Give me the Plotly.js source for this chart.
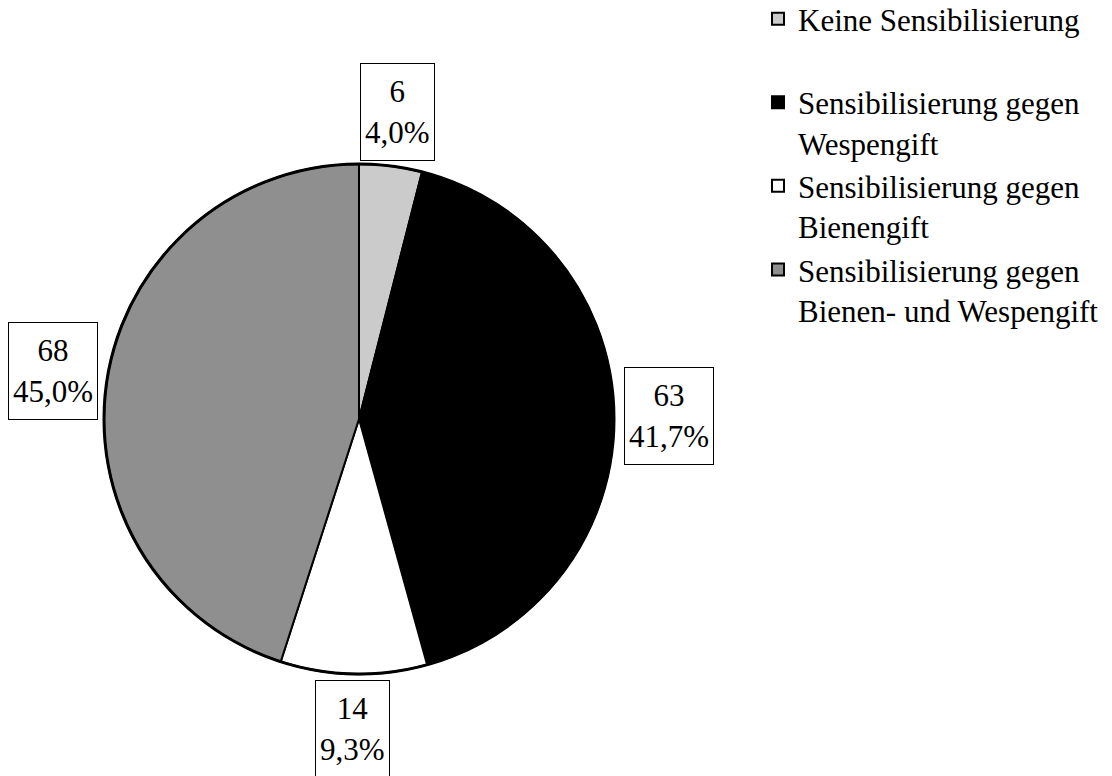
<!DOCTYPE html>
<html>
<head>
<meta charset="utf-8">
<script src="https://cdn.plot.ly/plotly-3.0.1.min.js"></script>
<style>
  html, body { margin: 0; padding: 0; background: #ffffff; }
  #chart { width: 1112px; height: 776px; }
</style>
</head>
<body>
<div id="chart"></div>
<script>
// Sensibilisierung gegen Insektengift: Anzahl der Patienten je Gruppe
const categories = [
  'Keine Sensibilisierung<br>&nbsp;',
  'Sensibilisierung gegen<br>Wespengift',
  'Sensibilisierung gegen<br>Bienengift',
  'Sensibilisierung gegen<br>Bienen- und Wespengift'
];
const counts = [6, 63, 14, 68];

const sliceColors = ['#cbcbcb', '#000000', '#ffffff', '#8f8f8f'];

const W = 1112, H = 776;
const FONT = 'Liberation Serif';
const FONT_SIZE = 31;

// pie placement in pixels
const cx = 359, cy = 419, r = 255;
const labelRadius = 1.215 * r;

const total = counts.reduce((a, b) => a + b, 0);
const fmtPct = v => (v / total * 100).toFixed(1).replace('.', ',') + '%';

// boxed value labels placed along each slice's middle angle (clockwise from 12 o'clock)
const annotations = [];
let start = 0;
counts.forEach(v => {
  const frac = v / total;
  const mid = (start + frac / 2) * 2 * Math.PI;
  start += frac;
  const px = cx + labelRadius * Math.sin(mid);
  const py = cy - labelRadius * Math.cos(mid);
  annotations.push({
    xref: 'paper', yref: 'paper',
    x: px / W, y: 1 - py / H,
    xanchor: 'center', yanchor: 'middle',
    showarrow: false,
    text: v + '<br>' + fmtPct(v),
    font: { family: FONT, size: FONT_SIZE, color: '#000000' },
    bordercolor: '#000000', borderwidth: 1, borderpad: 4,
    height: 88,
    bgcolor: '#ffffff'
  });
});

const trace = {
  type: 'pie',
  labels: categories,
  values: counts,
  sort: false,
  direction: 'clockwise',
  rotation: 0,
  textinfo: 'none',
  hoverinfo: 'label+value+percent',
  marker: { colors: sliceColors, line: { color: '#000000', width: 2 } },
  domain: {
    x: [(cx - r) / W, (cx + r) / W],
    y: [1 - (cy + r) / H, 1 - (cy - r) / H]
  }
};

const layout = {
  width: W, height: H,
  margin: { l: 0, r: 0, t: 0, b: 0, autoexpand: false },
  paper_bgcolor: '#ffffff',
  plot_bgcolor: '#ffffff',
  font: { family: FONT, size: FONT_SIZE, color: '#000000' },
  showlegend: true,
  legend: {
    x: 758 / W, y: 1 + 8 / H,
    xanchor: 'left', yanchor: 'top',
    valign: 'top',
    font: { family: FONT, size: FONT_SIZE, color: '#000000' },
    bgcolor: 'rgba(0,0,0,0)',
    traceorder: 'normal'
  },
  // heavier outline around the whole pie
  shapes: [{
    type: 'circle', xref: 'paper', yref: 'paper', layer: 'above',
    x0: (cx - r) / W, x1: (cx + r) / W,
    y0: 1 - (cy + r) / H, y1: 1 - (cy - r) / H,
    line: { color: '#000000', width: 3 },
    fillcolor: 'rgba(0,0,0,0)'
  }],
  annotations: annotations
};

Plotly.newPlot('chart', [trace], layout, { displayModeBar: false, staticPlot: true });
</script>
</body>
</html>
